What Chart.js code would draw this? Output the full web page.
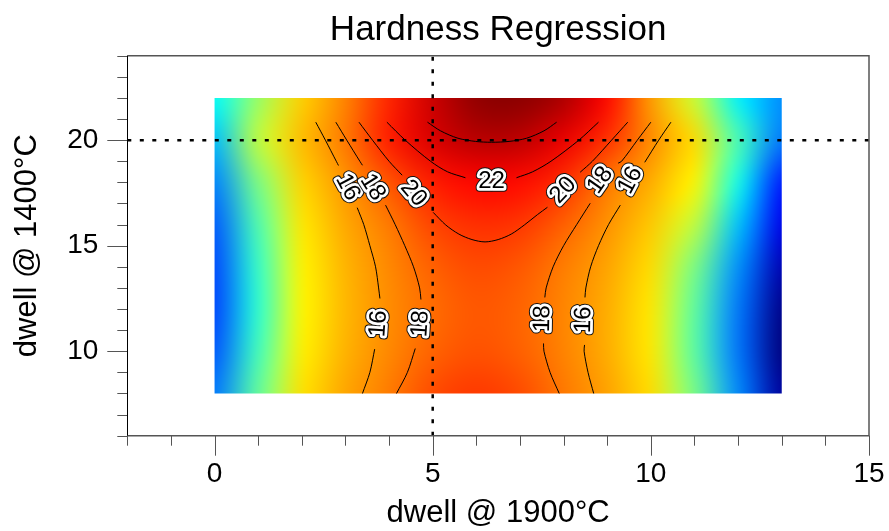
<!DOCTYPE html>
<html>
<head>
<meta charset="utf-8">
<title>Hardness Regression</title>
<script src="https://cdn.jsdelivr.net/npm/chart.js@4.4.0/dist/chart.umd.min.js"></script>
<style>
  html, body { margin: 0; padding: 0; background: #fff; }
  #wrap { width: 889px; height: 531px; }
</style>
</head>
<body>
<div id="wrap"><canvas id="hardness-chart" width="889" height="531"></canvas></div>
<script>
// grid of the regression surface (x = dwell @ 1900°C, y = dwell @ 1400°C)
const gridX = [0, 1, 2, 3, 4, 5, 6, 7, 8, 9, 10, 11, 12, 13];
const gridY = [8, 10, 12, 14, 16, 18, 20, 22];
// hardness values, one row per gridY entry (bottom row first)
const hardness = [
  [-0.6, 5.6, 10.8, 14.8, 17.6, 19.4, 20.0, 19.4, 17.8, 15.0, 11.1, 6.1, -0.1, -7.4],
  [-1.5, 4.8, 9.9, 13.9, 16.8, 18.6, 19.2, 18.7, 17.1, 14.3, 10.4, 5.4, -0.7, -8.0],
  [-2.0, 4.3, 9.5, 13.6, 16.5, 18.3, 19.0, 18.6, 17.0, 14.3, 10.4, 5.5, -0.6, -7.8],
  [-1.9, 4.5, 9.7, 13.8, 16.8, 18.7, 19.4, 19.0, 17.5, 14.9, 11.1, 6.2, 0.1, -7.0],
  [-1.4, 5.1, 10.4, 14.6, 17.7, 19.6, 20.4, 20.1, 18.7, 16.1, 12.4, 7.6, 1.6, -5.5],
  [-0.3, 6.2, 11.6, 15.9, 19.1, 21.1, 22.0, 21.8, 20.4, 17.9, 14.3, 9.6, 3.7, -3.3],
  [1.4, 7.6, 13.2, 17.8, 21.1, 23.2, 24.2, 24.0, 22.7, 20.3, 16.6, 11.2, 5.0, -0.6],
  [3.4, 6.8, 11.9, 17.1, 20.8, 23.6, 26.2, 26.5, 24.8, 22.0, 15.4, 7.8, 2.9, 0.0]
];
// colour scale: hardness value -> position on the rainbow (0 = dark blue, 1 = dark red)
const scaleZ = [-8, -6.2, -3.2, -0.4, 3.4, 6.3, 8.7, 12.5, 16, 18, 20, 22, 24, 27];
const scaleT = [0, 0.09, 0.15, 0.25, 0.38, 0.5, 0.62, 0.68, 0.73, 0.76, 0.82, 0.87, 0.94, 1];

// contour lines, [x, y] pairs, null = break for a label
const contour16Left = [[2.32, 20.85], [2.54, 20], [2.79, 19], [2.84, 18.8], null,
  [3.27, 16.8], [3.42, 16], [3.56, 15], [3.69, 14], [3.76, 13], [3.79, 12.5], null,
  [3.67, 10.1], [3.56, 9], [3.39, 8]];
const contour16Right = [[10.46, 20.85], [10.18, 20], [9.86, 18.95], null,
  [9.30, 16.92], [9.03, 16], [8.80, 15], [8.62, 14], [8.51, 13], [8.49, 12.55], null,
  [8.48, 10.3], [8.47, 10], [8.56, 9], [8.69, 8]];
const contour18Left = [[2.78, 20.85], [3.03, 20], [3.33, 19], [3.39, 18.81], null,
  [3.92, 16.92], [4.14, 16], [4.36, 15], [4.56, 14], [4.70, 13], [4.73, 12.45], null,
  [4.60, 10.13], [4.42, 9], [4.17, 8]];
const contour18Right = [[10.00, 20.85], [9.69, 20], [9.33, 19], [9.25, 18.91], null,
  [8.61, 17.01], [8.30, 16], [8.00, 15], [7.76, 14], [7.60, 13], [7.57, 12.55], null,
  [7.54, 10.37], [7.55, 10], [7.69, 9], [7.90, 8]];
const contour20 = [[3.31, 20.85], [3.62, 20], [4.00, 19], [4.30, 18.34], null,
  [5.01, 16.58], [5.3, 15.98], [5.6, 15.55], [5.9, 15.29], [6.2, 15.18], [6.5, 15.29],
  [6.8, 15.55], [7.1, 15.98], [7.4, 16.47], [7.63, 16.82], null,
  [8.38, 18.48], [8.66, 19], [9.10, 20], [9.47, 20.85]];
const contour22 = [[3.95, 20.85], [4.37, 20], [4.95, 19], [5.34, 18.5], [5.75, 18.22], null,
  [6.92, 18.22], [7.29, 18.5], [7.71, 19], [8.35, 20], [8.80, 20.85]];
const contour24 = [[4.88, 20.85], [5.18, 20.44], [5.58, 20.09], [5.98, 19.94], [6.35, 19.9],
  [6.75, 19.94], [7.15, 20.09], [7.55, 20.44], [7.84, 20.85]];

const contourLabels = [
  { text: "16", x: 3.05, y: 17.77, angle: 62 },
  { text: "18", x: 3.62, y: 17.77, angle: 58 },
  { text: "20", x: 4.56, y: 17.48, angle: 50 },
  { text: "22", x: 6.35, y: 18.04, angle: 0 },
  { text: "20", x: 7.99, y: 17.63, angle: -47 },
  { text: "18", x: 8.84, y: 18.1, angle: -55 },
  { text: "16", x: 9.53, y: 18.1, angle: -62 },
  { text: "16", x: 3.76, y: 11.3, angle: -86 },
  { text: "18", x: 4.72, y: 11.3, angle: -86 },
  { text: "18", x: 7.52, y: 11.54, angle: -89 },
  { text: "16", x: 8.46, y: 11.49, angle: -89 }
];

// cursor position
const cursorX = 5;
const cursorY = 20;

const FONT = "'Liberation Sans', Arial, Helvetica, sans-serif";

function rainbow(z) {
  let t;
  if (z <= scaleZ[0]) t = scaleT[0];
  else if (z >= scaleZ[scaleZ.length - 1]) t = scaleT[scaleT.length - 1];
  else {
    let k = 0;
    while (z > scaleZ[k + 1]) k++;
    const f = (z - scaleZ[k]) / (scaleZ[k + 1] - scaleZ[k]);
    t = scaleT[k] + f * (scaleT[k + 1] - scaleT[k]);
  }
  const c = v => Math.round(255 * Math.max(0, Math.min(1, v)));
  return [c(1.5 - Math.abs(4 * t - 3)), c(1.5 - Math.abs(4 * t - 2)), c(1.5 - Math.abs(4 * t - 1))];
}

function toPoints(pairs) {
  return pairs.map(p => (p ? { x: p[0], y: p[1] } : { x: null, y: null }));
}

function contourSet(pairs) {
  return {
    data: toPoints(pairs),
    borderColor: "#000",
    borderWidth: 1,
    pointRadius: 0,
    showLine: true,
    spanGaps: false,
    tension: 0.3
  };
}

const heatmapPlugin = {
  id: "heatmap",
  beforeDatasetsDraw(chart) {
    const { ctx } = chart;
    const xs = chart.scales.x, ys = chart.scales.y;
    const w = gridX.length, h = gridY.length;
    const off = document.createElement("canvas");
    off.width = w;
    off.height = h;
    const octx = off.getContext("2d");
    const img = octx.createImageData(w, h);
    for (let j = 0; j < h; j++) {
      const row = hardness[h - 1 - j];
      for (let i = 0; i < w; i++) {
        const [r, g, b] = rainbow(row[i]);
        const k = (j * w + i) * 4;
        img.data[k] = r;
        img.data[k + 1] = g;
        img.data[k + 2] = b;
        img.data[k + 3] = 255;
      }
    }
    octx.putImageData(img, 0, 0);
    const dx = gridX[1] - gridX[0], dy = gridY[1] - gridY[0];
    const x0 = xs.getPixelForValue(gridX[0]), x1 = xs.getPixelForValue(gridX[w - 1]);
    const y0 = ys.getPixelForValue(gridY[h - 1]), y1 = ys.getPixelForValue(gridY[0]);
    const ex0 = xs.getPixelForValue(gridX[0] - dx / 2), ex1 = xs.getPixelForValue(gridX[w - 1] + dx / 2);
    const ey0 = ys.getPixelForValue(gridY[h - 1] + dy / 2), ey1 = ys.getPixelForValue(gridY[0] - dy / 2);
    ctx.save();
    ctx.beginPath();
    ctx.rect(x0, y0, x1 - x0, y1 - y0);
    ctx.clip();
    ctx.imageSmoothingEnabled = true;
    ctx.imageSmoothingQuality = "high";
    ctx.drawImage(off, ex0, ey0, ex1 - ex0, ey1 - ey0);
    ctx.restore();
  }
};

const labelPlugin = {
  id: "contourLabels",
  afterDatasetsDraw(chart) {
    const { ctx } = chart;
    const xs = chart.scales.x, ys = chart.scales.y;
    ctx.save();
    ctx.font = "24px " + FONT;
    ctx.textAlign = "center";
    ctx.textBaseline = "middle";
    ctx.lineJoin = "round";
    contourLabels.forEach(l => {
      ctx.save();
      ctx.translate(xs.getPixelForValue(l.x), ys.getPixelForValue(l.y));
      ctx.rotate(l.angle * Math.PI / 180);
      ctx.strokeStyle = "#111";
      ctx.lineWidth = 7.5;
      ctx.strokeText(l.text, 0, 0);
      ctx.strokeStyle = "#fff";
      ctx.lineWidth = 5.5;
      ctx.strokeText(l.text, 0, 0);
      ctx.fillStyle = "#000";
      ctx.fillText(l.text, 0, 0);
      ctx.restore();
    });
    ctx.restore();
  }
};

// title centred over the plot area, axis frame and ticks
const framePlugin = {
  id: "frameTicks",
  afterDraw(chart) {
    const { ctx, chartArea: a } = chart;
    const xs = chart.scales.x, ys = chart.scales.y;
    ctx.save();
    ctx.fillStyle = "#000";
    ctx.font = "35px " + FONT;
    ctx.textAlign = "center";
    ctx.textBaseline = "middle";
    ctx.fillText("Hardness Regression", (a.left + a.right) / 2, 30);

    ctx.lineWidth = 1;
    ctx.strokeStyle = "#555";
    ctx.beginPath();
    xs.ticks.forEach(t => {
      const px = Math.round(xs.getPixelForValue(t.value)) + 0.5;
      const len = t.value % 5 === 0 ? 20 : 10;
      ctx.moveTo(px, a.bottom);
      ctx.lineTo(px, a.bottom + len);
    });
    ys.ticks.forEach(t => {
      const py = Math.round(ys.getPixelForValue(t.value)) + 0.5;
      const len = t.value % 5 === 0 ? 20 : 10;
      ctx.moveTo(a.left - len, py);
      ctx.lineTo(a.left, py);
    });
    ctx.stroke();
    ctx.lineWidth = 1.5;
    ctx.beginPath();
    ctx.moveTo(a.left, a.bottom);
    ctx.lineTo(a.right, a.bottom);
    ctx.lineTo(a.right, a.top);
    ctx.lineTo(a.left, a.top);
    ctx.stroke();
    ctx.lineWidth = 1;
    ctx.strokeStyle = "#000";
    ctx.beginPath();
    ctx.moveTo(Math.round(a.left) + 0.5, a.top);
    ctx.lineTo(Math.round(a.left) + 0.5, a.bottom);
    ctx.stroke();
    ctx.restore();
  }
};

const cursorStyle = {
  borderColor: "#000",
  borderWidth: 2.5,
  borderDash: [4, 8.5],
  pointRadius: 0,
  showLine: true
};

new Chart(document.getElementById("hardness-chart"), {
  type: "scatter",
  data: {
    datasets: [
      contourSet(contour16Left),
      contourSet(contour16Right),
      contourSet(contour18Left),
      contourSet(contour18Right),
      contourSet(contour20),
      contourSet(contour22),
      contourSet(contour24),
      Object.assign({ data: [{ x: cursorX, y: 6 }, { x: cursorX, y: 24 }] }, cursorStyle),
      Object.assign({ data: [{ x: -2, y: cursorY }, { x: 15, y: cursorY }] }, cursorStyle)
    ]
  },
  options: {
    responsive: false,
    animation: false,
    events: [],
    layout: { padding: { left: 0, right: 20, top: 55.7, bottom: 0 } },
    plugins: {
      legend: { display: false },
      tooltip: { enabled: false },
      title: { display: false }
    },
    scales: {
      x: {
        type: "linear",
        min: -2,
        max: 15,
        afterFit: s => {
          s.height = 95.3;
          s.paddingLeft = 0;
          s.paddingRight = 0;
        },
        grid: { display: false, drawTicks: false },
        border: { display: false },
        ticks: {
          stepSize: 1,
          autoSkip: false,
          maxRotation: 0,
          padding: 22,
          color: "#000",
          font: { family: FONT, size: 28 },
          callback: v => (v % 5 === 0 ? String(v) : "")
        },
        title: {
          display: true,
          text: "dwell @ 1900°C",
          color: "#000",
          font: { family: FONT, size: 31, lineHeight: 1.1 },
          padding: { top: 0, bottom: 0 }
        }
      },
      y: {
        type: "linear",
        min: 6,
        max: 24,
        afterFit: s => {
          s.width = 127.3;
          s.paddingTop = 0;
          s.paddingBottom = 0;
        },
        grid: { display: false, drawTicks: false },
        border: { display: false },
        ticks: {
          stepSize: 1,
          autoSkip: false,
          padding: 29,
          color: "#000",
          font: { family: FONT, size: 28 },
          callback: v => (v % 5 === 0 ? String(v) : "")
        },
        title: {
          display: true,
          text: "dwell @ 1400°C",
          color: "#000",
          font: { family: FONT, size: 31, lineHeight: 1.1 },
          padding: { top: 10.5, bottom: 0 }
        }
      }
    }
  },
  plugins: [heatmapPlugin, labelPlugin, framePlugin]
});
</script>
</body>
</html>
